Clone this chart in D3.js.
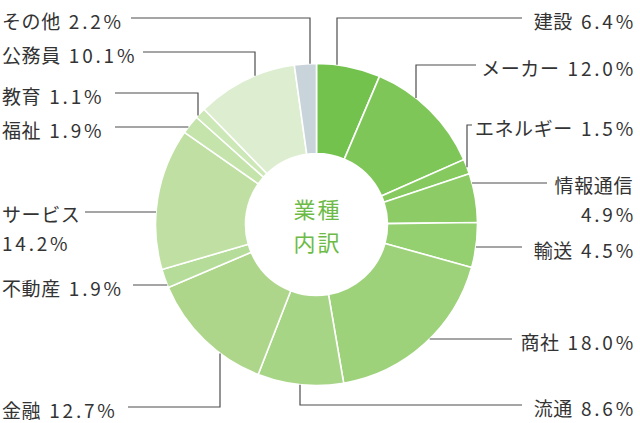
<!DOCTYPE html>
<html lang="ja">
<head>
<meta charset="utf-8">
<script src="https://cdn.jsdelivr.net/npm/d3@7"></script>
<style>
  html, body { margin: 0; padding: 0; background: #fff; }
  svg { display: block; font-family: "Noto Sans CJK JP", "Noto Sans", sans-serif; }
  .lbl { font-size: 19px; fill: #333; }
  .lbl .name { letter-spacing: 0.6px; }
  .lbl .val { letter-spacing: 2.8px; }
  .leader { fill: none; stroke: #4d4d4d; stroke-width: 1.2; }
  .center { font-size: 22px; fill: #6dbb46; letter-spacing: 2px; }
</style>
</head>
<body>
<svg id="chart" width="640" height="423"></svg>
<script>
// 業種内訳
const categories = ['建設', 'メーカー', 'エネルギー', '情報通信', '輸送', '商社', '流通',
  '金融', '不動産', 'サービス', '福祉', '教育', '公務員', 'その他'];
const shares = [6.4, 12.0, 1.5, 4.9, 4.5, 18.0, 8.6, 12.7, 1.9, 14.2, 1.9, 1.1, 10.1, 2.2];
const colors = ['#74c24e', '#7fc659', '#86c95f', '#8ccb66', '#94cf70', '#9dd27a', '#a6d585',
  '#aed68b', '#b6dc9a', '#bfe0a2', '#c5e4ac', '#cde8b7', '#ddeed0', '#c9d4da'];

// label placement: side, text y, where the leader stops near the text, optional elbow x
const labelLayout = [
  { side: 'R', y: 18,  end: 522, elbow: 337, edge: 'top' },
  { side: 'R', y: 65,  end: 476, elbow: 416, edge: 'top' },
  { side: 'R', y: 125, end: 472, elbow: 467, edge: 'top' },
  { side: 'R', y: 183, end: 547, wrap: true },
  { side: 'R', y: 247, end: 522 },
  { side: 'R', y: 339, end: 512 },
  { side: 'R', y: 405, end: 522, elbow: 300, edge: 'bottom' },
  { side: 'L', y: 407, end: 128, elbow: 220, edge: 'bottom' },
  { side: 'L', y: 285, end: 133 },
  { side: 'L', y: 212, end: 85, wrap: true },
  { side: 'L', y: 127, end: 115 },
  { side: 'L', y: 93,  end: 115, elbow: 198, edge: 'top' },
  { side: 'L', y: 52,  end: 143, elbow: 255, edge: 'top' },
  { side: 'L', y: 18,  end: 131, elbow: 310, edge: 'top' }
];

const cx = 316.5, cy = 224.5;
const outerR = 161, innerR = 71;

const svg = d3.select('#chart');
const g = svg.append('g').attr('transform', `translate(${cx},${cy})`);

const data = categories.map((name, i) => ({ name, share: shares[i], color: colors[i] }));

const pie = d3.pie().sort(null).value(d => d.share);
const arc = d3.arc().innerRadius(innerR).outerRadius(outerR);

g.selectAll('path.slice')
  .data(pie(data))
  .join('path')
  .attr('class', 'slice')
  .attr('d', arc)
  .attr('fill', d => d.data.color)
  .attr('stroke', '#fff')
  .attr('stroke-width', 1.6);

// centre title
const title = svg.append('text').attr('class', 'center').attr('text-anchor', 'middle');
title.append('tspan').attr('x', cx + 1).attr('y', 208).attr('dominant-baseline', 'central').text('業種');
title.append('tspan').attr('x', cx + 1).attr('y', 241).attr('dominant-baseline', 'central').text('内訳');

// leaders and labels
const fmt = v => v.toFixed(1) + '%';

data.forEach((d, i) => {
  const L = labelLayout[i];
  let pts;
  if (L.elbow !== undefined) {
    const dy = Math.sqrt(outerR * outerR - (L.elbow - cx) ** 2);
    const yEdge = L.edge === 'top' ? cy - dy : cy + dy;
    pts = [[L.end, L.y], [L.elbow, L.y], [L.elbow, yEdge]];
  } else {
    const dx = Math.sqrt(outerR * outerR - (L.y - cy) ** 2);
    const xEdge = L.side === 'R' ? cx + dx : cx - dx;
    pts = [[L.end, L.y], [xEdge, L.y]];
  }
  svg.append('path').attr('class', 'leader').attr('d', d3.line()(pts));

  const anchor = L.side === 'R' ? 'end' : 'start';
  const tx = L.side === 'R' ? 636 : 2;
  const ty = L.y + 1.5;
  const t = svg.append('text').attr('class', 'lbl').attr('text-anchor', anchor);
  if (L.wrap) {
    t.append('tspan').attr('class', 'name').attr('x', tx + (L.side === 'R' ? -3 : 0)).attr('y', ty)
      .attr('dominant-baseline', 'central').text(d.name);
    t.append('tspan').attr('class', 'val').attr('x', tx).attr('y', ty + 29)
      .attr('dominant-baseline', 'central').text(fmt(d.share));
  } else {
    t.attr('x', tx).attr('y', ty).attr('dominant-baseline', 'central');
    t.append('tspan').attr('class', 'name').text(d.name);
    t.append('tspan').attr('class', 'val').attr('dx', 8).text(fmt(d.share));
  }
});
</script>
</body>
</html>
